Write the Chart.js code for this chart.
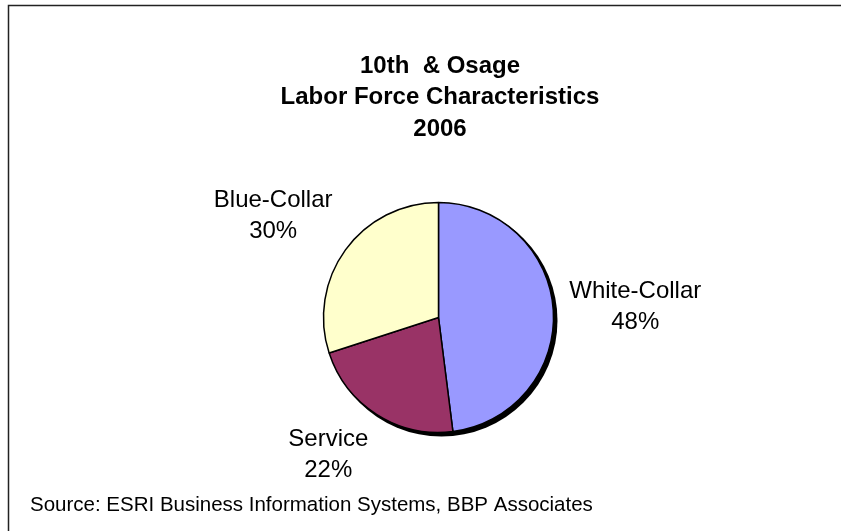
<!DOCTYPE html>
<html>
<head>
<meta charset="utf-8">
<script src="https://cdn.jsdelivr.net/npm/chart.js@4/dist/chart.umd.min.js"></script>
<style>
  body { margin: 0; background: #fff; }
  #wrap { width: 841px; height: 531px; }
</style>
</head>
<body>
<div id="wrap"><canvas id="chart" width="841" height="531"></canvas></div>
<script>
// data
const categories = ['White-Collar', 'Service', 'Blue-Collar'];
const shares = [48, 22, 30];
const sliceColors = ['#9999FF', '#993366', '#FFFFCC'];
const titleLines = ['10th  & Osage', 'Labor Force Characteristics', '2006'];
const sourceNote = 'Source: ESRI Business Information Systems, BBP Associates';

const FONT = '"Liberation Sans", Arial, sans-serif';

// frame, title, source line
const decorPlugin = {
  id: 'decor',
  beforeDraw(chart) {
    const ctx = chart.ctx;
    ctx.save();
    ctx.fillStyle = '#fff';
    ctx.fillRect(0, 0, chart.width, chart.height);
    ctx.strokeStyle = '#222';
    ctx.lineWidth = 1.5;
    ctx.strokeRect(8.5, 5.5, chart.width + 10, chart.height + 10);
    ctx.restore();
  },
  afterDraw(chart) {
    const ctx = chart.ctx;
    ctx.save();
    ctx.fillStyle = '#000';
    ctx.textAlign = 'center';
    ctx.textBaseline = 'middle';
    ctx.font = 'bold 24px ' + FONT;
    titleLines.forEach((line, i) => {
      ctx.fillText(line, 440, 66 + i * 31.5);
    });
    ctx.textAlign = 'left';
    ctx.font = '20.5px ' + FONT;
    ctx.fillText(sourceNote, 30, 505);
    ctx.restore();
  }
};

// drop shadow behind the pie
const shadowPlugin = {
  id: 'pieShadow',
  beforeDatasetsDraw(chart) {
    const arc = chart.getDatasetMeta(0).data[0];
    if (!arc) return;
    const ctx = chart.ctx;
    ctx.save();
    ctx.fillStyle = '#000';
    ctx.beginPath();
    ctx.arc(arc.x + 3, arc.y + 3, arc.outerRadius + 1, 0, Math.PI * 2);
    ctx.fill();
    ctx.restore();
  }
};

// outside labels: name + percent, box corner hung off a point just past the rim
const labelPlugin = {
  id: 'outsideLabels',
  afterDatasetsDraw(chart) {
    const ctx = chart.ctx;
    const meta = chart.getDatasetMeta(0);
    const lineGap = 31;
    ctx.save();
    ctx.fillStyle = '#000';
    ctx.textAlign = 'center';
    ctx.textBaseline = 'middle';
    ctx.font = '24px ' + FONT;
    meta.data.forEach((arc, i) => {
      const pct = shares[i] + '%';
      const halfW = Math.max(ctx.measureText(categories[i]).width, ctx.measureText(pct).width) / 2;
      const halfH = (lineGap + 22) / 2;
      const mid = (arc.startAngle + arc.endAngle) / 2;
      const ux = Math.cos(mid), uy = Math.sin(mid);
      const rim = arc.outerRadius + 16;
      const kx = Math.min(1, Math.abs(ux) * 3);
      const ky = Math.min(1, Math.abs(uy) * 1.6);
      const x = arc.x + ux * rim + Math.sign(ux) * halfW * kx;
      const y = arc.y + uy * rim + Math.sign(uy) * halfH * ky;
      ctx.fillText(categories[i], x, y - lineGap / 2);
      ctx.fillText(pct, x, y + lineGap / 2);
    });
    ctx.restore();
  }
};

new Chart(document.getElementById('chart'), {
  type: 'pie',
  data: {
    labels: categories,
    datasets: [{
      data: shares,
      backgroundColor: sliceColors,
      borderColor: '#000',
      borderWidth: 1.5,
      hoverOffset: 0
    }]
  },
  options: {
    responsive: false,
    animation: false,
    layout: {
      padding: { top: 201.75, bottom: 97.75, left: 322.75, right: 286.75 }
    },
    plugins: {
      legend: { display: false },
      title: { display: false },
      tooltip: { enabled: false }
    }
  },
  plugins: [decorPlugin, shadowPlugin, labelPlugin]
});
</script>
</body>
</html>
